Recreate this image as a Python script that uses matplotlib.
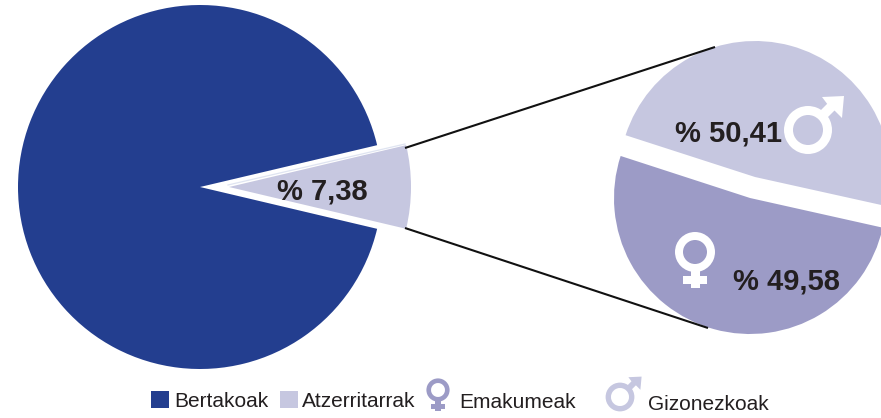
import matplotlib
matplotlib.use("Agg")
import matplotlib.pyplot as plt
from matplotlib.patches import Wedge, Rectangle, Polygon

W, H = 881, 418
BLUE = "#233e8f"
LIGHT = "#c6c7e0"
MID = "#9c9bc6"
INK = "#231f20"

# share of population
origin_values = [92.62, 7.38]
origin_labels = ["Bertakoak", "Atzerritarrak"]
origin_text = "% 7,38"

# the slices in the picture are not drawn to their printed values,
# so the sweep is read off the picture and the labels are kept apart
gender_drawn = [48.5, 51.5]
gender_text = ["% 50,41", "% 49,58"]
gender_labels = ["Gizonezkoak", "Emakumeak"]

plt.rcParams["font.family"] = ["Liberation Sans", "DejaVu Sans"]


def y(py):
    return H - py


def slice_of(ax, values, cx, cy, r, start, color):
    # one visible slice, the rest of the circle stays empty
    wedges, _ = ax.pie(values, center=(cx, y(cy)), radius=r, startangle=start,
                       colors=[color, "white"], frame=True)
    wedges[1].set_visible(False)


def venus(ax, cx, cy, k, color):
    ax.add_patch(Wedge((cx, y(cy)), 20 * k, 0, 360, width=8 * k, fc=color, ec="none", zorder=5))
    ax.add_patch(Rectangle((cx - 4.5 * k, y(cy + 36 * k)), 9 * k, 19 * k, fc=color, ec="none", zorder=5))
    ax.add_patch(Rectangle((cx - 12 * k, y(cy + 32 * k)), 24 * k, 8.5 * k, fc=color, ec="none", zorder=5))


def mars(ax, cx, cy, k, color):
    ax.add_patch(Wedge((cx, y(cy)), 24 * k, 0, 360, width=9 * k, fc=color, ec="none", zorder=5))
    stem = [(12, -19), (19, -12), (29, -22), (22, -29)]
    head = [(36, -34), (14, -33), (20, -25), (27, -19), (34, -12)]
    for pts in (stem, head):
        ax.add_patch(Polygon([(cx + a * k, y(cy + b * k)) for a, b in pts],
                             fc=color, ec="none", zorder=5))


fig = plt.figure(figsize=(W / 100, H / 100), dpi=100)
ax = fig.add_axes([0, 0, 1, 1])

# leader lines first, the zoomed circle sits on top of their ends
ax.plot([405, 715], [y(148), y(47)], color="#111111", lw=1.5, solid_capstyle="butt")
ax.plot([405, 708], [y(228), y(328)], color="#111111", lw=1.5, solid_capstyle="butt")

half = origin_values[1] * 1.8
slice_of(ax, origin_values, 200, 187, 182, half, BLUE)
slice_of(ax, origin_values[::-1], 229, 187, 182, -half, LIGHT)
ax.plot([228, 405], [y(185), y(144)], color="#dfe4f1", lw=0.9)

slice_of(ax, gender_drawn, 755, 177, 136, -12.5, LIGHT)
slice_of(ax, gender_drawn[::-1], 750, 198, 136, 162, MID)

bold = dict(color=INK, fontweight="bold", fontsize=21, va="baseline", ha="left")
ax.text(277, y(200), origin_text, **bold)
ax.text(675, y(142), gender_text[0], **bold)
ax.text(733, y(290), gender_text[1], **bold)

mars(ax, 808, 130, 1, "white")
venus(ax, 695, 252, 1, "white")

# legend
note = dict(color=INK, fontsize=15, va="baseline", ha="left")
ax.add_patch(Rectangle((151, y(408)), 18, 17, fc=BLUE, ec="none"))
ax.text(174, y(407), origin_labels[0], **note)
ax.add_patch(Rectangle((280, y(408)), 18, 17, fc=LIGHT, ec="none"))
ax.text(302, y(407), origin_labels[1], **note)
venus(ax, 438, 390, 0.58, MID)
ax.text(459, y(408), gender_labels[1], **note)
mars(ax, 620, 397, 0.6, LIGHT)
ax.text(648, y(410), gender_labels[0], **note)

ax.set_xlim(0, W)
ax.set_ylim(0, H)
ax.axis("off")
fig.savefig("out.png", dpi=100)
